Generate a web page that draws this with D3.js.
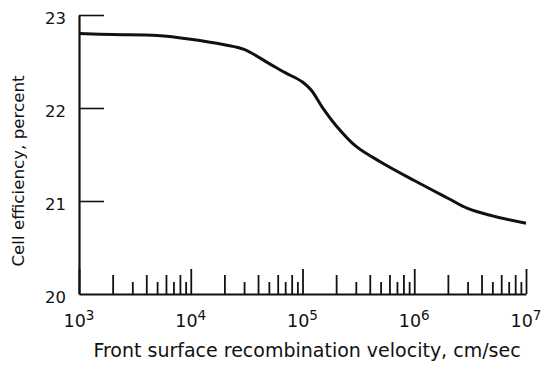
<!DOCTYPE html>
<html>
<head>
<meta charset="utf-8">
<script src="https://cdn.jsdelivr.net/npm/d3@7"></script>
<style>
  body { margin: 0; background: #fff; }
  svg { display: block; }
  text { font-family: "DejaVu Sans", Arial, Helvetica, sans-serif; fill: #111; }
</style>
</head>
<body>
<div id="chart"></div>
<script>
// velocity, cm/sec
const velocity = [1e3, 2e3, 5e3, 1e4, 2e4, 3e4, 5e4, 7e4, 1e5, 1.2e5, 1.5e5, 2e5, 3e5, 5e5, 1e6, 2e6, 3e6, 5e6, 1e7];
// cell efficiency, percent
const efficiency = [22.80, 22.79, 22.78, 22.74, 22.68, 22.63, 22.48, 22.38, 22.28, 22.19, 22.01, 21.81, 21.59, 21.42, 21.22, 21.03, 20.92, 20.84, 20.76];

const yTicks = [20, 21, 22, 23];
const xDecades = [1e3, 1e4, 1e5, 1e6, 1e7];

const W = 541, H = 366;
const margin = { top: 15, right: 15, bottom: 72, left: 79 };

const x = d3.scaleLog().domain([1e3, 1e7]).range([margin.left, W - margin.right]);
const y = d3.scaleLinear().domain([20, 23]).range([H - margin.bottom, margin.top]);

const svg = d3.select('#chart').append('svg')
  .attr('width', W)
  .attr('height', H);

// y axis: line on the left, ticks pointing into the plot
const yAxis = d3.axisRight(y)
  .tickValues(yTicks.filter(d => d !== 20))
  .tickSize(25)
  .tickSizeOuter(0)
  .tickFormat('');
const gy = svg.append('g').attr('transform', 'translate(' + margin.left + ',0)').call(yAxis);
gy.select('.domain').attr('stroke', '#111').attr('stroke-width', 2.2);
gy.selectAll('.tick line').attr('stroke', '#111').attr('stroke-width', 1.6);

svg.append('g').selectAll('text')
  .data(yTicks)
  .enter().append('text')
    .attr('x', margin.left - 13)
    .attr('y', d => y(d))
    .attr('dy', '0.72em')
    .attr('transform', 'translate(0,-3)')
    .attr('text-anchor', 'end')
    .style('font-size', '16.5px')
    .text(d => d);

// x axis: baseline with log ticks pointing up
const tickLen = d => {
  const m = Math.round(d / Math.pow(10, Math.floor(Math.log10(d) + 1e-9)));
  if (m === 1) return 25;
  return m % 2 === 0 ? 19 : 12;
};
const xAxis = d3.axisTop(x)
  .tickValues(x.ticks())
  .tickSizeOuter(0)
  .tickFormat('');
const gx = svg.append('g').attr('transform', 'translate(0,' + y(20) + ')').call(xAxis);
gx.select('.domain').attr('stroke', '#111').attr('stroke-width', 2.2);
gx.selectAll('.tick line')
  .attr('stroke', '#111')
  .attr('stroke-width', 1.8)
  .attr('y2', d => -tickLen(d));

// decade labels 10^n
const lbl = svg.append('g').selectAll('text')
  .data(xDecades)
  .enter().append('text')
    .attr('x', d => x(d))
    .attr('y', y(20) + 33)
    .attr('text-anchor', 'middle')
    .style('font-size', '17.5px');
lbl.append('tspan').text('10');
lbl.append('tspan')
  .attr('dy', '-0.5em')
  .style('font-size', '13.5px')
  .text(d => Math.round(Math.log10(d)));

// axis titles
svg.append('text')
  .attr('x', 307)
  .attr('y', 357)
  .attr('text-anchor', 'middle')
  .style('font-size', '19px')
  .text('Front surface recombination velocity, cm/sec');

svg.append('text')
  .attr('transform', 'translate(24,171) rotate(-90)')
  .attr('text-anchor', 'middle')
  .style('font-size', '16.7px')
  .text('Cell efficiency, percent');

// curve
const data = velocity.map((v, i) => ({ v: v, e: efficiency[i] }));
const line = d3.line()
  .x(d => x(d.v))
  .y(d => y(d.e))
  .curve(d3.curveCatmullRom.alpha(0.5));

svg.append('path')
  .datum(data)
  .attr('fill', 'none')
  .attr('stroke', '#111')
  .attr('stroke-width', 3)
  .attr('d', line);
</script>
</body>
</html>
